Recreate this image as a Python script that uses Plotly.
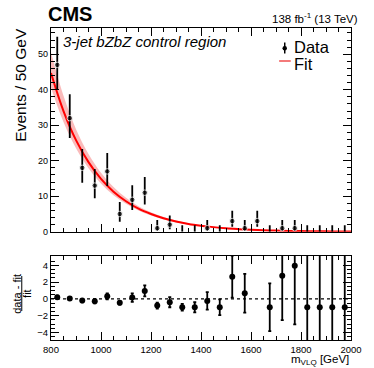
import plotly.graph_objects as go

# ---------------- data ----------------
bin_centers = [825, 875, 925, 975, 1025, 1075, 1125, 1175, 1225, 1275, 1325, 1375,
               1425, 1475, 1525, 1575, 1625, 1675, 1725, 1775, 1825, 1875, 1925, 1975]
data_counts = [47, 32, 18, 13, 17, 5, 9, 11, 1, 2, 0, 0,
               1, 0, 3, 1, 3, 0, 1, 1, 0, 0, 0, 0]
data_err_up = [7.9, 6.7, 5.3, 4.7, 5.2, 3.4, 4.1, 4.4, 2.3, 2.6, 1.8, 1.8,
               2.3, 1.8, 2.9, 2.3, 2.9, 1.8, 2.3, 2.3, 1.8, 1.8, 1.8, 1.8]
data_err_dn = [6.8, 5.6, 4.2, 3.6, 4.1, 2.2, 2.9, 3.3, 0.8, 1.3, 0, 0,
               0.8, 0, 1.6, 0.8, 1.6, 0, 0.8, 0.8, 0, 0, 0, 0]

fit_x = [800, 850, 900, 950, 1000, 1050, 1100, 1150, 1200, 1250, 1300, 1350, 1400,
         1450, 1500, 1550, 1600, 1650, 1700, 1750, 1800, 1850, 1900, 1950, 2000]
fit_y = [44.7, 34.0, 25.8, 19.6, 14.9, 11.3, 8.6, 6.5, 5.0, 3.8, 2.9, 2.2, 1.7,
         1.3, 0.96, 0.73, 0.55, 0.42, 0.32, 0.24, 0.18, 0.14, 0.11, 0.08, 0.06]
fit_up = [50.5, 38.3, 28.9, 21.9, 16.6, 12.6, 9.55, 7.2, 5.5, 4.18, 3.18, 2.4, 1.86,
          1.42, 1.05, 0.8, 0.6, 0.46, 0.35, 0.26, 0.2, 0.15, 0.12, 0.09, 0.07]
fit_dn = [40.6, 30.9, 23.5, 17.9, 13.6, 10.3, 7.85, 5.95, 4.55, 3.46, 2.64, 2.0, 1.55,
          1.18, 0.87, 0.66, 0.5, 0.38, 0.29, 0.22, 0.16, 0.13, 0.1, 0.07, 0.055]

ratio_x = [825, 875, 925, 975, 1025, 1075, 1125, 1175, 1225, 1275, 1325, 1375,
           1425, 1475, 1525, 1575, 1675, 1725, 1775, 1825, 1875, 1925, 1975]
ratio_y = [0.2, 0.05, -0.2, -0.27, 0.3, -0.47, 0.15, 0.95, -0.8, -0.4, -1.0, -1.0,
           -0.24, -1.0, 2.65, 0.67, -1.0, 2.77, 3.95, -1.0, -1.0, -1.0, -1.0]
ratio_err = [0.18, 0.2, 0.2, 0.26, 0.35, 0.2, 0.5, 0.65, 0.35, 0.6, 0.4, 0.6,
             1.05, 0.93, 2.5, 2.3, 2.85, 5.3, 7.0, 12, 12, 12, 12]

x_ticks = [800, 1000, 1200, 1400, 1600, 1800, 2000]
ratio_ticks = [-4, -2, 0, 2, 4]

# ---------------- geometry helpers ----------------
W, H = 374, 368
ML, MR, MT, MB = 51, 12, 28, 28
PW, PH = W - ML - MR, H - MT - MB


def px(xp):
    return (xp - ML) / PW


def py(yp):
    return (H - MB - yp) / PH


FONT = "Liberation Sans, Arial, Helvetica, sans-serif"

fig = go.Figure()

# fit band
fig.add_trace(go.Scatter(x=fit_x, y=fit_up, mode="lines", line=dict(width=0, shape="spline"),
                         hoverinfo="skip", showlegend=False, xaxis="x", yaxis="y"))
fig.add_trace(go.Scatter(x=fit_x, y=fit_dn, mode="lines", line=dict(width=0, shape="spline"),
                         fill="tonexty", fillcolor="rgba(245,120,120,0.5)",
                         hoverinfo="skip", showlegend=False, xaxis="x", yaxis="y"))
# fit line
fig.add_trace(go.Scatter(x=fit_x, y=fit_y, mode="lines",
                         line=dict(color="#ff0000", width=2, shape="spline"),
                         showlegend=False, xaxis="x", yaxis="y"))
# data
fig.add_trace(go.Scatter(
    x=bin_centers, y=data_counts, mode="markers",
    marker=dict(color="black", size=[5.5 if v > 0 else 0 for v in data_counts]),
    error_y=dict(type="data", symmetric=False, array=data_err_up, arrayminus=data_err_dn,
                 color="black", thickness=1.8, width=0),
    showlegend=False, xaxis="x", yaxis="y"))

# ratio
fig.add_trace(go.Scatter(
    x=ratio_x, y=ratio_y, mode="markers",
    marker=dict(color="black", size=6),
    error_y=dict(type="data", array=ratio_err, color="black", thickness=1.8, width=1.5),
    showlegend=False, xaxis="x2", yaxis="y2"))

axis_common = dict(showline=True, linecolor="black", linewidth=1.2, mirror="allticks",
                   ticks="inside", tickcolor="black", tickwidth=1, showgrid=False,
                   zeroline=False)

fig.update_layout(
    width=W, height=H,
    margin=dict(l=ML, r=MR, t=MT, b=MB),
    paper_bgcolor="white", plot_bgcolor="white",
    font=dict(family=FONT, color="black"),
    xaxis=dict(domain=[0, 1], range=[800, 2000], anchor="y", tickvals=x_ticks,
               showticklabels=False, ticklen=8,
               minor=dict(dtick=50, ticklen=4, ticks="inside", tickcolor="black", showgrid=False),
               **axis_common),
    yaxis=dict(domain=[0.347, 1], range=[0, 57.4], anchor="x", dtick=10, ticklen=8,
               tickfont=dict(size=9),
               minor=dict(dtick=2, ticklen=4, ticks="inside", tickcolor="black", showgrid=False),
               **axis_common),
    xaxis2=dict(domain=[0, 1], range=[800, 2000], anchor="y2", tickvals=x_ticks, ticklen=8,
                tickfont=dict(size=9.5),
                minor=dict(dtick=50, ticklen=4, ticks="inside", tickcolor="black", showgrid=False),
                **axis_common),
    yaxis2=dict(domain=[0, 0.269], range=[-4.9, 5.1], anchor="x2", tickvals=ratio_ticks,
                ticklen=8, tickfont=dict(size=9.5),
                minor=dict(dtick=0.5, ticklen=4, ticks="inside", tickcolor="black", showgrid=False),
                **axis_common),
)

shapes = []
# zero line in ratio
shapes.append(dict(type="line", xref="x2", yref="y2", x0=800, x1=2000, y0=0, y1=0,
                   line=dict(color="black", width=1.3, dash="dot")))
# legend: data marker with error bar
shapes.append(dict(type="line", xref="paper", yref="paper", x0=px(293.3), x1=px(293.3),
                   y0=py(42.5), y1=py(53.5), line=dict(color="black", width=1.5)))
shapes.append(dict(type="circle", xref="paper", yref="paper", x0=px(291), x1=px(295.6),
                   y0=py(46), y1=py(50.6), fillcolor="black", line=dict(color="black", width=0)))
# legend: fit
shapes.append(dict(type="line", xref="paper", yref="paper", x0=px(287.5), x1=px(299.5),
                   y0=py(61), y1=py(61), line=dict(color="#f47a7a", width=2)))
# fraction bar of ratio title
shapes.append(dict(type="line", xref="paper", yref="paper", x0=px(20.7), x1=px(20.7),
                   y0=py(276), y1=py(311), line=dict(color="black", width=1)))
fig.update_layout(shapes=shapes)

ann = []
ann.append(dict(text="<b>CMS</b>", x=px(46), y=py(14), xref="paper", yref="paper",
                xanchor="left", yanchor="middle", showarrow=False, font=dict(size=20)))
ann.append(dict(text="138 fb<sup>-1</sup> (13 TeV)", x=px(371), y=py(18), xref="paper",
                yref="paper", xanchor="right", yanchor="middle", showarrow=False,
                font=dict(size=11.5)))
ann.append(dict(text="<i>3-jet bZbZ control region</i>", x=px(61), y=py(42), xref="paper",
                yref="paper", xanchor="left", yanchor="middle", showarrow=False,
                font=dict(size=15)))
ann.append(dict(text="Data", x=px(301), y=py(47), xref="paper", yref="paper",
                xanchor="left", yanchor="middle", showarrow=False, font=dict(size=16.5)))
ann.append(dict(text="Fit", x=px(301), y=py(63.5), xref="paper", yref="paper",
                xanchor="left", yanchor="middle", showarrow=False, font=dict(size=16.5)))
ann.append(dict(text="Events / 50 GeV", x=px(18.5), y=py(85), xref="paper", yref="paper",
                xanchor="center", yanchor="middle", showarrow=False, textangle=-90,
                font=dict(size=15.5)))
ann.append(dict(text="data - fit", x=px(15), y=py(293.5), xref="paper", yref="paper",
                xanchor="center", yanchor="middle", showarrow=False, textangle=-90,
                font=dict(size=11)))
ann.append(dict(text="fit", x=px(25.5), y=py(293.5), xref="paper", yref="paper",
                xanchor="center", yanchor="middle", showarrow=False, textangle=-90,
                font=dict(size=11)))
ann.append(dict(text="m<sub>VLQ</sub> [GeV]", x=px(362), y=py(359.5), xref="paper",
                yref="paper", xanchor="right", yanchor="middle", showarrow=False,
                font=dict(size=11.5)))
fig.update_layout(annotations=ann)

fig.write_html("out.html")
